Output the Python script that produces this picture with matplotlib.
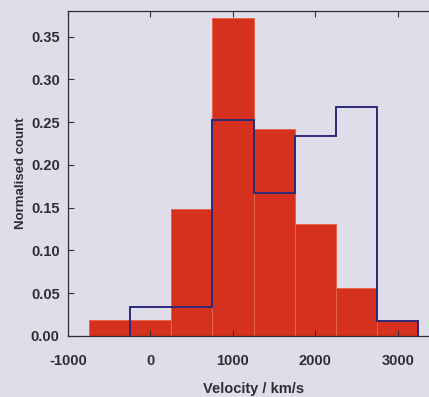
import numpy as np
import matplotlib.pyplot as plt

# --- data ---
bin_width = 500
red_centres = [-500, 0, 500, 1000, 1500, 2000, 2500, 3000]
red_counts = [0.0185, 0.0185, 0.148, 0.372, 0.242, 0.131, 0.056, 0.0175]

blue_edges = [-250, 250, 750, 1250, 1750, 2250, 2750, 3250]
blue_counts = [0.0335, 0.0335, 0.252, 0.167, 0.234, 0.268, 0.0170]

x_ticks = [-1000, 0, 1000, 2000, 3000]
y_ticks = [0.00, 0.05, 0.10, 0.15, 0.20, 0.25, 0.30, 0.35]

# --- style ---
BG = '#dedde9'
RED = '#d6311f'
RED_EDGE = '#e4644c'
BLUE = '#2c2a7a'
INK = '#2e2e36'

plt.rcParams['font.family'] = ['Liberation Sans', 'DejaVu Sans']
plt.rcParams['axes.unicode_minus'] = False

fig = plt.figure(figsize=(4.29, 3.97), dpi=100, facecolor=BG)
# axes run a bit past the right border, like the cropped scan
ax = fig.add_axes([0.1585, 0.1537, 0.865, 0.8186], facecolor=BG)

ax.bar(red_centres, red_counts, width=bin_width, color=RED,
       edgecolor=RED_EDGE, linewidth=0.7, zorder=1)
ax.stairs(blue_counts, blue_edges, baseline=0, color=BLUE, linewidth=1.4, zorder=3)

ax.set_xlim(-1000, 3500)
ax.set_ylim(0, 0.38)
ax.set_xticks(x_ticks)
ax.set_yticks(y_ticks)
ax.set_yticklabels([f'{v:.2f}' for v in y_ticks])

ax.tick_params(direction='in', length=4, width=0.8, color=INK,
               top=True, right=False, labelsize=10.5, labelcolor=INK, pad=6)
ax.tick_params(axis='x', pad=13)
for lab in ax.get_xticklabels() + ax.get_yticklabels():
    lab.set_fontweight('bold')

for side in ['left', 'bottom', 'top', 'right']:
    ax.spines[side].set_color(INK)
    ax.spines[side].set_linewidth(0.9)

ax.set_xlabel('Velocity / km/s', fontsize=10.5, fontweight='bold', color=INK, labelpad=10)
ax.set_ylabel('Normalised count', fontsize=9.5, fontweight='bold', color=INK, labelpad=3)

fig.savefig('out.png', dpi=100, facecolor=BG)
